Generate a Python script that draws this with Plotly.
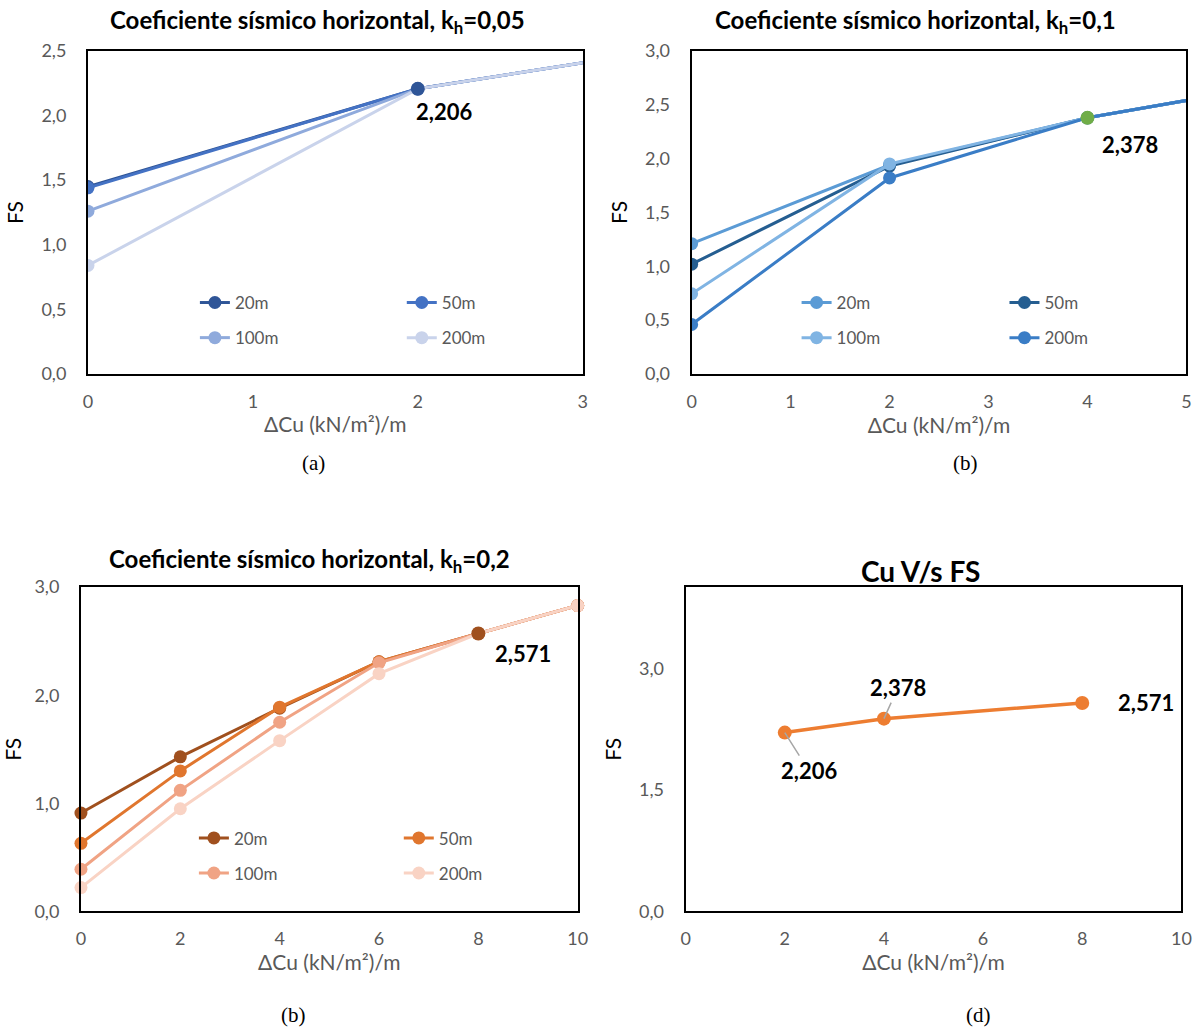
import plotly.graph_objects as go

# ---------------- data ----------------
series_names = ["20m", "50m", "100m", "200m"]

# (a) kh = 0,05
a_x = [0, 2, 4]
a_20 = [1.45, 2.206, 2.61]
a_50 = [1.44, 2.206, 2.61]
a_100 = [1.26, 2.206, 2.61]
a_200 = [0.84, 2.206, 2.61]

# (b) kh = 0,1
b_x = [0, 2, 4, 6]
b_20 = [1.21, 1.94, 2.378, 2.70]
b_50 = [1.02, 1.93, 2.378, 2.70]
b_100 = [0.745, 1.95, 2.378, 2.70]
b_200 = [0.46, 1.82, 2.378, 2.70]

# (c) kh = 0,2
c_x = [0, 2, 4, 6, 8, 10]
c_20 = [0.91, 1.43, 1.88, 2.31, 2.571, 2.83]
c_50 = [0.63, 1.30, 1.89, 2.31, 2.571, 2.83]
c_100 = [0.39, 1.12, 1.75, 2.30, 2.571, 2.83]
c_200 = [0.22, 0.95, 1.58, 2.20, 2.571, 2.83]

# (d) Cu vs FS
d_x = [2, 4, 8]
d_fs = [2.206, 2.378, 2.571]
d_labels = ["2,206", "2,378", "2,571"]

titles = ["Coeficiente sísmico horizontal, k<sub>h</sub>=0,05",
          "Coeficiente sísmico horizontal, k<sub>h</sub>=0,1",
          "Coeficiente sísmico horizontal, k<sub>h</sub>=0,2",
          "Cu V/s FS"]
captions = ["(a)", "(b)", "(b)", "(d)"]
x_title = "ΔCu (kN/m²)/m"
y_title = "FS"

# ---------------- styling ----------------
W, H = 1198, 1030
FONT = "Lato, 'Open Sans', sans-serif"
GRAY = "#595959"

cols_a = ["#2F5597", "#4472C4", "#8FAADC", "#C9D3EB"]
cols_b = ["#5B9BD5", "#255E91", "#80B4E3", "#3A7DC6"]
cols_c = ["#A0501E", "#E0762E", "#F0A384", "#F9D3C4"]
col_d = "#ED7D31"
green = "#70AD47"

# screen-position -> paper fraction (compensates the photo framing)
SX, OX = 0.988, 4.0
SY, OY = 0.978, 12.2


def px(X):
    return ((X - OX) / SX) / W


def py(Y):
    return 1 - ((Y - OY) / SY) / H


fig = go.Figure()

panels = [
    (a_x, [a_20, a_50, a_100, a_200], cols_a, "x", "y", ("legend", "legend2")),
    (b_x, [b_20, b_50, b_100, b_200], cols_b, "x2", "y2", ("legend3", "legend4")),
    (c_x, [c_20, c_50, c_100, c_200], cols_c, "x3", "y3", ("legend5", "legend6")),
]

for pi, (xs, ys_list, cols, xa, ya, legs) in enumerate(panels):
    for si, (name, ys, col) in enumerate(zip(series_names, ys_list, cols)):
        fig.add_trace(go.Scatter(
            x=xs, y=ys, name=name, mode="lines+markers",
            line=dict(color=col, width=3),
            marker=dict(color=col, size=13),
            xaxis=xa, yaxis=ya,
            legend=legs[si % 2], legendgroup=f"p{pi}s{si}",
            cliponaxis=(pi != 2),
        ))

# highlighted points (values from the summary)
hl = [("x", "y", d_x[0], d_fs[0], cols_a[0]),
      ("x2", "y2", d_x[1], d_fs[1], green),
      ("x3", "y3", d_x[2], d_fs[2], cols_c[0])]
for xa, ya, xv, yv, col in hl:
    fig.add_trace(go.Scatter(x=[xv], y=[yv], mode="markers",
                             marker=dict(color=col, size=14),
                             xaxis=xa, yaxis=ya, showlegend=False,
                             cliponaxis=False))

# panel d
fig.add_trace(go.Scatter(x=d_x, y=d_fs, mode="lines+markers",
                         line=dict(color=col_d, width=3.5),
                         marker=dict(color=col_d, size=14),
                         xaxis="x4", yaxis="y4", showlegend=False))

# ---------------- axes ----------------
common_ax = dict(showline=True, linecolor="black", linewidth=2, mirror=True,
                 showgrid=False, zeroline=False, ticks="",
                 tickfont=dict(family=FONT, size=18, color=GRAY))

dom = {
    "a": ([px(87), px(582)], [py(374), py(51)]),
    "b": ([px(691), px(1186)], [py(374), py(51)]),
    "c": ([px(80), px(577)], [py(911), py(587)]),
    "d": ([px(685), px(1181)], [py(911), py(587)]),
}

xt = dict(text=x_title, font=dict(family=FONT, size=21, color=GRAY), standoff=7)
yt = dict(text=y_title, font=dict(family=FONT, size=21, color="black"), standoff=12)

layout_axes = {}
spec = [("xaxis", "yaxis", "a", [0, 3], 1, [0, 2.5], 0.5, "y", "x"),
        ("xaxis2", "yaxis2", "b", [0, 5], 1, [0, 3], 0.5, "y2", "x2"),
        ("xaxis3", "yaxis3", "c", [0, 10], 2, [0, 3], 1.0, "y3", "x3"),
        ("xaxis4", "yaxis4", "d", [0, 10], 2, [0, 4], 1.5, "y4", "x4")]
for xk, yk, key, xr, xd, yr, yd, anc_x, anc_y in spec:
    xd_, yd_ = dom[key]
    layout_axes[xk] = dict(common_ax, domain=xd_, range=xr, dtick=xd, tick0=0,
                           anchor=anc_x, title=xt, ticklabelstandoff=10)
    layout_axes[yk] = dict(common_ax, domain=yd_, range=yr, dtick=yd, tick0=0,
                           anchor=anc_y, title=yt, tickformat=".1f",
                           ticklabelstandoff=16)

# ---------------- legends ----------------
leg_font = dict(family=FONT, size=17, color=GRAY)


def leg(x_text, y_top):
    return dict(x=px(x_text - 42), y=py(y_top), xanchor="left", yanchor="top",
                orientation="v", bgcolor="rgba(0,0,0,0)", font=leg_font,
                tracegroupgap=10, itemwidth=30)


legends = {
    "legend": leg(236, 285), "legend2": leg(443, 285),
    "legend3": leg(838, 285), "legend4": leg(1046, 285),
    "legend5": leg(235, 820), "legend6": leg(440, 820),
}

# ---------------- annotations ----------------
ann = []
title_pos = [(317, 22), (915, 22), (309, 560), (920, 571)]
for i, (t, (tx, ty)) in enumerate(zip(titles, title_pos)):
    ann.append(dict(text=f"<b>{t}</b>", x=px(tx), y=py(ty), xref="paper", yref="paper",
                    xanchor="center", yanchor="middle", showarrow=False,
                    font=dict(family=FONT, size=24 if i < 3 else 28, color="black")))

cap_pos = [(313, 463), (965, 463), (293, 1015), (978, 1015)]
for c, (cx, cy) in zip(captions, cap_pos):
    ann.append(dict(text=c, x=px(cx), y=py(cy), xref="paper", yref="paper",
                    xanchor="center", yanchor="middle", showarrow=False,
                    font=dict(family="'Liberation Serif', serif", size=21, color="black")))

lab_font = dict(family=FONT, size=22, color="black")
# labels in panels a-c
for (xa, ya, xv, yv, _), lab, (dx, dy) in zip(hl, d_labels, [(26, -23), (43, -27), (45, -20)]):
    ann.append(dict(text=f"<b>{lab}</b>", x=xv, y=yv, xref=xa, yref=ya,
                    xshift=dx, yshift=dy, showarrow=False, font=lab_font))
# labels in panel d with leader lines
ann.append(dict(text=f"<b>{d_labels[0]}</b>", x=d_x[0], y=d_fs[0], xref="x4", yref="y4",
                showarrow=True, arrowhead=0, arrowwidth=1.5, arrowcolor="#A6A6A6",
                ax=24, ay=38, font=lab_font))
ann.append(dict(text=f"<b>{d_labels[1]}</b>", x=d_x[1], y=d_fs[1], xref="x4", yref="y4",
                showarrow=True, arrowhead=0, arrowwidth=1.5, arrowcolor="#A6A6A6",
                ax=14, ay=-31, font=lab_font))
ann.append(dict(text=f"<b>{d_labels[2]}</b>", x=d_x[2], y=d_fs[2], xref="x4", yref="y4",
                showarrow=False, xshift=64, font=lab_font))

fig.update_layout(
    width=W, height=H, margin=dict(l=0, r=0, t=0, b=0),
    paper_bgcolor="white", plot_bgcolor="white",
    separators=",.",
    annotations=ann,
    **layout_axes, **legends,
)

fig.write_html("out.html",
               post_script="document.body.style.margin='0';document.body.style.overflow='hidden';")
